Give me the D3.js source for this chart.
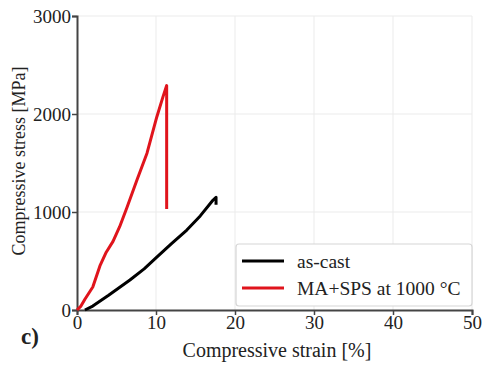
<!DOCTYPE html>
<html>
<head>
<meta charset="utf-8">
<script src="https://cdn.jsdelivr.net/npm/d3@7"></script>
<style>
  body { margin: 0; background: #fff; }
  svg text { font-family: "Liberation Serif", "Times New Roman", serif; fill: #222; }
</style>
</head>
<body>
<svg id="chart" width="482" height="370"></svg>
<script>
// strain [%], stress [MPa]
const asCastStrain = [1.0, 2, 4, 6.7, 8.5, 10.1, 12, 13.9, 15.6, 17.2, 17.6, 17.6];
const asCastStress = [0, 40, 150, 306, 420, 540, 680, 816, 960, 1120, 1150, 1075];
const spsStrain = [0, 0.5, 1, 2.0, 2.9, 3.7, 4.56, 5.4, 6.3, 7.6, 8.86, 10.1, 10.9, 11.35, 11.35];
const spsStress = [0, 40, 110, 235, 450, 590, 700, 850, 1040, 1330, 1600, 1970, 2180, 2290, 1030];
const seriesNames = ["as-cast", "MA+SPS at 1000 \u00B0C"];
const seriesColors = ["#000000", "#e0141c"];
const xTicks = [0, 10, 20, 30, 40, 50];
const yTicks = [0, 1000, 2000, 3000];

const svg = d3.select("#chart");
const serif = "'Liberation Serif', 'Times New Roman', serif";

const x = d3.scaleLinear().domain([0, 50]).range([77, 472]);
const y = d3.scaleLinear().domain([0, 3000]).range([310, 16]);

// grid
svg.append("g").selectAll("line").data(xTicks.slice(1)).join("line")
  .attr("x1", d => x(d)).attr("x2", d => x(d))
  .attr("y1", y(0)).attr("y2", y(3000))
  .attr("stroke", "#ebebeb").attr("stroke-width", 1);
svg.append("g").selectAll("line").data(yTicks.slice(1)).join("line")
  .attr("x1", x(0)).attr("x2", x(50))
  .attr("y1", d => y(d)).attr("y2", d => y(d))
  .attr("stroke", "#ebebeb").attr("stroke-width", 1);

// axes
const xAxis = svg.append("g").attr("transform", `translate(0,${y(0)})`)
  .call(d3.axisBottom(x).tickValues(xTicks).tickFormat(d3.format("d")).tickSize(5).tickPadding(1));
const yAxis = svg.append("g").attr("transform", `translate(${x(0)},0)`)
  .call(d3.axisLeft(y).tickValues(yTicks).tickFormat(d3.format("d")).tickSize(5).tickPadding(1));
[xAxis, yAxis].forEach(a => {
  a.attr("font-family", serif).attr("font-size", 19);
  a.select(".domain").attr("stroke", "#444").attr("stroke-width", 2);
  a.selectAll(".tick line").attr("stroke", "#444").attr("stroke-width", 1.5);
  a.selectAll(".tick text").attr("fill", "#222").style("font-family", serif);
});

// lines
const series = [
  asCastStrain.map((s, i) => [s, asCastStress[i]]),
  spsStrain.map((s, i) => [s, spsStress[i]])
];
const line = d3.line().x(d => x(d[0])).y(d => y(d[1]));
series.forEach((pts, i) => {
  svg.append("path").datum(pts)
    .attr("d", line)
    .attr("fill", "none")
    .attr("stroke", seriesColors[i])
    .attr("stroke-width", 3)
    .attr("stroke-linejoin", "round");
});

// legend
const lg = svg.append("g");
lg.append("rect").attr("x", 236).attr("y", 244).attr("width", 236).attr("height", 62)
  .attr("rx", 3).attr("fill", "#fff").attr("stroke", "#d6d6d6").attr("stroke-width", 1.2);
seriesNames.forEach((name, i) => {
  const yy = 261 + i * 27;
  lg.append("line").attr("x1", 242).attr("x2", 284).attr("y1", yy).attr("y2", yy)
    .attr("stroke", seriesColors[i]).attr("stroke-width", 3);
  lg.append("text").attr("x", 297).attr("y", yy + 7).attr("font-size", 19.5).text(name);
});

// axis titles
svg.append("text").attr("x", 277).attr("y", 357).attr("text-anchor", "middle")
  .attr("font-size", 20).text("Compressive strain [%]");
svg.append("text").attr("transform", "translate(25,161) rotate(-90)")
  .attr("text-anchor", "middle").attr("font-size", 18).text("Compressive stress [MPa]");

// panel label
svg.append("text").attr("x", 21).attr("y", 344).attr("font-size", 23)
  .attr("font-weight", "bold").text("c)");
</script>
</body>
</html>
